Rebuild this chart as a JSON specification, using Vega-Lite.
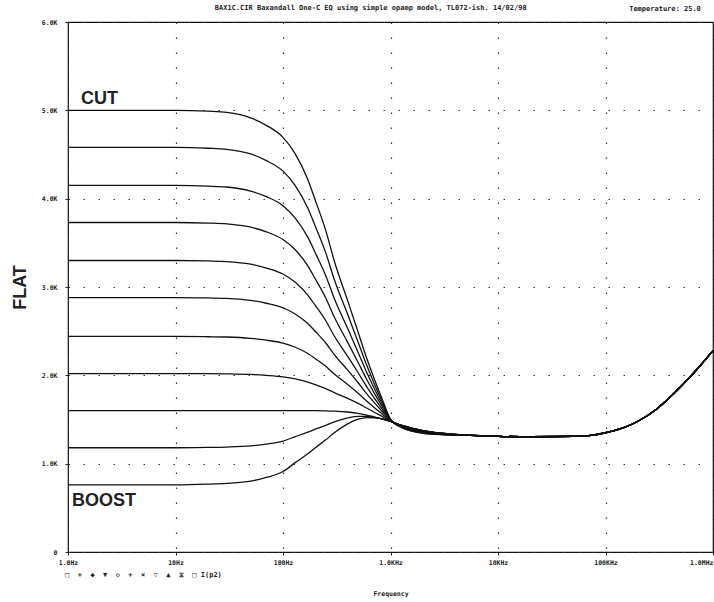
{
  "$schema": "https://vega.github.io/schema/vega-lite/v6.json",
  "autosize": {"type": "none"},
  "padding": {"left": 68, "top": 22, "right": 1, "bottom": 50},
  "width": 645,
  "height": 530,
  "background": "white",
  "config": {
    "view": {"stroke": "#111", "strokeWidth": 1.2},
    "axis": {
      "grid": true,
      "gridDash": [1.5, 13.5],
      "gridColor": "#333",
      "gridWidth": 1.2,
      "domain": false,
      "tickSize": 3,
      "tickColor": "#222",
      "labelFont": "DejaVu Sans Mono",
      "labelFontSize": 6.5,
      "labelFontWeight": "bold",
      "labelColor": "#222",
      "labelOverlap": false,
      "labelFlush": false
    }
  },
  "datasets": {
    "curves": [
      {"f": 1, "c1": 5.00, "c2": 4.58, "c3": 4.15, "c4": 3.73, "c5": 3.30, "c6": 2.88, "c7": 2.44, "c8": 2.02, "c9": 1.60, "c10": 1.18, "c11": 0.76},
      {"f": 10, "c1": 5.00, "c2": 4.58, "c3": 4.15, "c4": 3.73, "c5": 3.30, "c6": 2.88, "c7": 2.44, "c8": 2.02, "c9": 1.60, "c10": 1.18, "c11": 0.76},
      {"f": 20, "c1": 4.990, "c2": 4.571, "c3": 4.142, "c4": 3.724, "c5": 3.295, "c6": 2.876, "c7": 2.437, "c8": 2.019, "c9": 1.6, "c10": 1.184, "c11": 0.768},
      {"f": 30, "c1": 4.976, "c2": 4.559, "c3": 4.132, "c4": 3.715, "c5": 3.288, "c6": 2.871, "c7": 2.434, "c8": 2.017, "c9": 1.6, "c10": 1.188, "c11": 0.777},
      {"f": 50, "c1": 4.915, "c2": 4.506, "c3": 4.086, "c4": 3.677, "c5": 3.258, "c6": 2.848, "c7": 2.419, "c8": 2.010, "c9": 1.6, "c10": 1.201, "c11": 0.802},
      {"f": 70, "c1": 4.830, "c2": 4.431, "c3": 4.023, "c4": 3.624, "c5": 3.215, "c6": 2.816, "c7": 2.398, "c8": 1.999, "c9": 1.6, "c10": 1.222, "c11": 0.844},
      {"f": 100, "c1": 4.694, "c2": 4.312, "c3": 3.921, "c4": 3.538, "c5": 3.147, "c6": 2.765, "c7": 2.364, "c8": 1.982, "c9": 1.6, "c10": 1.256, "c11": 0.911},
      {"f": 130, "c1": 4.507, "c2": 4.148, "c3": 3.780, "c4": 3.421, "c5": 3.054, "c6": 2.694, "c7": 2.318, "c8": 1.959, "c9": 1.6, "c10": 1.306, "c11": 1.012},
      {"f": 170, "c1": 4.218, "c2": 3.895, "c3": 3.564, "c4": 3.240, "c5": 2.909, "c6": 2.586, "c7": 2.247, "c8": 1.923, "c9": 1.6, "c10": 1.356, "c11": 1.113},
      {"f": 200, "c1": 3.980, "c2": 3.686, "c3": 3.385, "c4": 3.091, "c5": 2.790, "c6": 2.496, "c7": 2.188, "c8": 1.894, "c9": 1.6, "c10": 1.390, "c11": 1.180},
      {"f": 250, "c1": 3.638, "c2": 3.386, "c3": 3.128, "c4": 2.876, "c5": 2.618, "c6": 2.366, "c7": 2.102, "c8": 1.850, "c9": 1.598, "c10": 1.434, "c11": 1.270},
      {"f": 300, "c1": 3.295, "c2": 3.085, "c3": 2.870, "c4": 2.660, "c5": 2.445, "c6": 2.235, "c7": 2.015, "c8": 1.805, "c9": 1.595, "c10": 1.473, "c11": 1.351},
      {"f": 400, "c1": 2.843, "c2": 2.688, "c3": 2.529, "c4": 2.373, "c5": 2.214, "c6": 2.059, "c7": 1.896, "c8": 1.740, "c9": 1.585, "c10": 1.518, "c11": 1.451},
      {"f": 500, "c1": 2.488, "c2": 2.375, "c3": 2.259, "c4": 2.145, "c5": 2.029, "c6": 1.916, "c7": 1.797, "c8": 1.683, "c9": 1.570, "c10": 1.536, "c11": 1.503},
      {"f": 600, "c1": 2.196, "c2": 2.116, "c3": 2.035, "c4": 1.955, "c5": 1.873, "c6": 1.793, "c7": 1.710, "c8": 1.630, "c9": 1.550, "c10": 1.535, "c11": 1.521},
      {"f": 700, "c1": 1.972, "c2": 1.917, "c3": 1.862, "c4": 1.807, "c5": 1.751, "c6": 1.696, "c7": 1.639, "c8": 1.585, "c9": 1.530, "c10": 1.525, "c11": 1.520},
      {"f": 850, "c1": 1.709, "c2": 1.684, "c3": 1.658, "c4": 1.633, "c5": 1.607, "c6": 1.582, "c7": 1.555, "c8": 1.530, "c9": 1.505, "c10": 1.505, "c11": 1.505},
      {"f": 1000, "c1": 1.505, "c2": 1.502, "c3": 1.498, "c4": 1.495, "c5": 1.492, "c6": 1.488, "c7": 1.485, "c8": 1.481, "c9": 1.478, "c10": 1.478, "c11": 1.478},
      {"f": 1300, "c1": 1.403, "c2": 1.406, "c3": 1.410, "c4": 1.413, "c5": 1.416, "c6": 1.420, "c7": 1.423, "c8": 1.427, "c9": 1.430, "c10": 1.430, "c11": 1.430},
      {"f": 1600, "c1": 1.366, "c2": 1.370, "c3": 1.375, "c4": 1.379, "c5": 1.383, "c6": 1.387, "c7": 1.392, "c8": 1.396, "c9": 1.400, "c10": 1.400, "c11": 1.400},
      {"f": 2000, "c1": 1.344, "c2": 1.348, "c3": 1.352, "c4": 1.356, "c5": 1.360, "c6": 1.363, "c7": 1.367, "c8": 1.371, "c9": 1.375, "c10": 1.375, "c11": 1.375},
      {"f": 3000, "c1": 1.328, "c2": 1.330, "c3": 1.332, "c4": 1.334, "c5": 1.336, "c6": 1.339, "c7": 1.341, "c8": 1.343, "c9": 1.345, "c10": 1.345, "c11": 1.345},
      {"f": 5000, "c1": 1.322, "c2": 1.322, "c3": 1.322, "c4": 1.322, "c5": 1.322, "c6": 1.322, "c7": 1.322, "c8": 1.322, "c9": 1.322, "c10": 1.322, "c11": 1.322},
      {"f": 10000, "c1": 1.310, "c2": 1.310, "c3": 1.310, "c4": 1.310, "c5": 1.310, "c6": 1.310, "c7": 1.310, "c8": 1.310, "c9": 1.310, "c10": 1.310, "c11": 1.310},
      {"f": 20000, "c1": 1.305, "c2": 1.305, "c3": 1.305, "c4": 1.305, "c5": 1.305, "c6": 1.305, "c7": 1.305, "c8": 1.305, "c9": 1.305, "c10": 1.305, "c11": 1.305},
      {"f": 50000, "c1": 1.308, "c2": 1.308, "c3": 1.308, "c4": 1.308, "c5": 1.308, "c6": 1.308, "c7": 1.308, "c8": 1.308, "c9": 1.308, "c10": 1.308, "c11": 1.308},
      {"f": 70000, "c1": 1.318, "c2": 1.318, "c3": 1.318, "c4": 1.318, "c5": 1.318, "c6": 1.318, "c7": 1.318, "c8": 1.318, "c9": 1.318, "c10": 1.318, "c11": 1.318},
      {"f": 100000, "c1": 1.350, "c2": 1.350, "c3": 1.350, "c4": 1.350, "c5": 1.350, "c6": 1.350, "c7": 1.350, "c8": 1.350, "c9": 1.350, "c10": 1.350, "c11": 1.350},
      {"f": 150000, "c1": 1.410, "c2": 1.410, "c3": 1.410, "c4": 1.410, "c5": 1.410, "c6": 1.410, "c7": 1.410, "c8": 1.410, "c9": 1.410, "c10": 1.410, "c11": 1.410},
      {"f": 200000, "c1": 1.480, "c2": 1.480, "c3": 1.480, "c4": 1.480, "c5": 1.480, "c6": 1.480, "c7": 1.480, "c8": 1.480, "c9": 1.480, "c10": 1.480, "c11": 1.480},
      {"f": 300000, "c1": 1.620, "c2": 1.620, "c3": 1.620, "c4": 1.620, "c5": 1.620, "c6": 1.620, "c7": 1.620, "c8": 1.620, "c9": 1.620, "c10": 1.620, "c11": 1.620},
      {"f": 500000, "c1": 1.870, "c2": 1.870, "c3": 1.870, "c4": 1.870, "c5": 1.870, "c6": 1.870, "c7": 1.870, "c8": 1.870, "c9": 1.870, "c10": 1.870, "c11": 1.870},
      {"f": 700000, "c1": 2.060, "c2": 2.060, "c3": 2.060, "c4": 2.060, "c5": 2.060, "c6": 2.060, "c7": 2.060, "c8": 2.060, "c9": 2.060, "c10": 2.060, "c11": 2.060},
      {"f": 1000000, "c1": 2.280, "c2": 2.280, "c3": 2.280, "c4": 2.280, "c5": 2.280, "c6": 2.280, "c7": 2.280, "c8": 2.280, "c9": 2.280, "c10": 2.280, "c11": 2.280}
    ],
    "bigNotes": [
      {"f": 1.32, "v": 5.072, "t": "CUT"},
      {"f": 1.089, "v": 0.521, "t": "BOOST"}
    ],
    "smallNotes": [
      {"f": 23.2, "v": 6.136, "t": "BAX1C.CIR Baxandall One-C EQ using simple opamp model, TL072-ish. 14/02/98"},
      {"f": 166000, "v": 6.125, "t": "Temperature: 25.0"},
      {"f": 0.94, "v": -0.283, "t": "□\u00a0\u00a0+\u00a0\u00a0◆\u00a0\u00a0▼\u00a0\u00a0◇\u00a0\u00a0+\u00a0\u00a0×\u00a0\u00a0▽\u00a0\u00a0▲\u00a0\u00a0⧖\u00a0\u00a0□\u00a0I(p2)"}
    ]
  },
  "layer": [
    {
      "data": {"name": "curves"},
      "transform": [
        {"fold": ["c1", "c2", "c3", "c4", "c5", "c6", "c7", "c8", "c9", "c10", "c11"], "as": ["curve", "v"]}
      ],
      "mark": {"type": "line", "interpolate": "monotone", "strokeWidth": 1.3, "color": "#111"},
      "encoding": {
        "x": {
          "field": "f",
          "type": "quantitative",
          "scale": {"type": "log", "domain": [1, 1000000], "nice": false},
          "axis": {
            "values": [1, 10, 100, 1000, 10000, 100000, 1000000],
            "labelExpr": "datum.value < 5 ? '1.0Hz' : datum.value < 50 ? '10Hz' : datum.value < 500 ? '100Hz' : datum.value < 5000 ? '1.0KHz' : datum.value < 50000 ? '10KHz' : datum.value < 500000 ? '100KHz' : '1.0MHz'",
            "labelAlign": {"condition": {"test": "datum.value > 500000", "value": "right"}, "value": "center"},
            "labelPadding": 4,
            "title": "Frequency",
            "titleFont": "DejaVu Sans Mono",
            "titleFontSize": 6.5,
            "titleFontWeight": "bold",
            "titleColor": "#222",
            "titlePadding": 25
          }
        },
        "y": {
          "field": "v",
          "type": "quantitative",
          "scale": {"domain": [0, 6], "nice": false},
          "axis": {
            "values": [0, 1, 2, 3, 4, 5, 6],
            "labelExpr": "datum.value == 0 ? '0' : format(datum.value, '.1f') + 'K'",
            "labelPadding": 8,
            "title": "FLAT",
            "titleFont": "Liberation Sans",
            "titleFontSize": 18,
            "titleFontWeight": "bold",
            "titleColor": "#222",
            "titleX": -48,
            "titleY": 265,
            "titleBaseline": "middle"
          }
        },
        "detail": {"field": "curve", "type": "nominal"}
      }
    },
    {
      "data": {"name": "bigNotes"},
      "mark": {"type": "text", "align": "left", "baseline": "alphabetic", "font": "Liberation Sans", "fontSize": 18, "fontWeight": "bold", "color": "#222"},
      "encoding": {
        "x": {"field": "f", "type": "quantitative"},
        "y": {"field": "v", "type": "quantitative"},
        "text": {"field": "t"}
      }
    },
    {
      "data": {"name": "smallNotes"},
      "mark": {"type": "text", "align": "left", "baseline": "alphabetic", "font": "DejaVu Sans Mono", "fontSize": 7, "fontWeight": "bold", "color": "#222"},
      "encoding": {
        "x": {"field": "f", "type": "quantitative"},
        "y": {"field": "v", "type": "quantitative"},
        "text": {"field": "t"}
      }
    }
  ]
}
